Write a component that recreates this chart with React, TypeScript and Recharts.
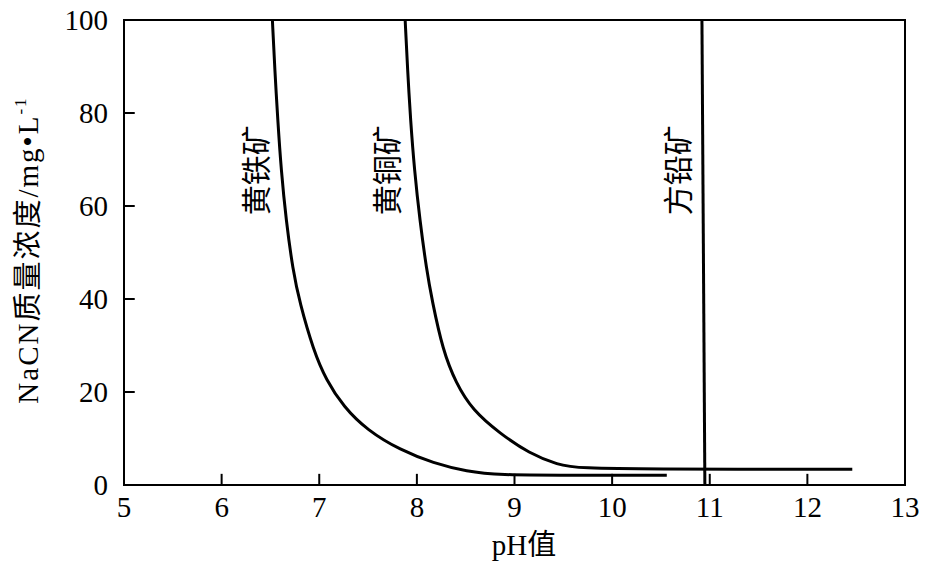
import React from 'react';
import {
    LineChart,
    Line,
    XAxis,
    YAxis,
    ReferenceArea,
    ReferenceDot,
    ReferenceLine
} from 'recharts';

// pH values (x) and NaCN concentration in mg/L (y)
const pyritePH = [6.52, 6.545, 6.575, 6.61, 6.66, 6.73, 6.8, 6.94, 7.07, 7.25, 7.49, 7.83, 8.17, 8.51, 8.85, 9.5, 10.0, 10.56];
const pyriteNaCN = [100, 89.2, 78.5, 67.7, 57, 46.2, 39.2, 29.0, 22.6, 16.8, 11.8, 7.5, 4.7, 2.9, 2.15, 2.1, 2.1, 2.1];

const chalcoPH = [7.88, 7.905, 7.935, 7.975, 8.03, 8.1, 8.155, 8.265, 8.4, 8.57, 8.85, 9.15, 9.45, 9.65, 10.5, 11.5, 12.46];
const chalcoNaCN = [100, 89.2, 78.5, 67.7, 57, 46.2, 39.8, 29.0, 21.9, 16.1, 11.1, 6.8, 4.3, 3.6, 3.4, 3.4, 3.4];

const galenaPH = [10.92, 10.95];
const galenaNaCN = [100, 0];

const xTicks = [5, 6, 7, 8, 9, 10, 11, 12, 13];
const yTicks = [0, 20, 40, 60, 80, 100];

// curve names and where they sit (pH, concentration)
const curveNames = ['黄铁矿', '黄铜矿', '方铅矿'];
const labelPH = [6.36, 7.7, 10.68];
const labelNaCN = [67.7, 67.7, 67.7];

const toRows = (xs: number[], ys: number[]) => xs.map((ph, i) => ({ ph, nacn: ys[i] }));

const pyriteData = toRows(pyritePH, pyriteNaCN);
const chalcoData = toRows(chalcoPH, chalcoNaCN);
const galenaData = toRows(galenaPH, galenaNaCN);

const SERIF = "'Liberation Serif', 'DejaVu Serif', 'Noto Sans CJK SC', serif";
const INK = '#000';

// inward tick length, in axis units (about 11px each way)
const TICK_X = 0.11;
const TICK_Y = 2.4;

const YTick = ({ x, y, payload }: any) => (
    <text x={Number(x) - 16} y={y} textAnchor="end" dominantBaseline="central" fill={INK} fontSize={29} fontFamily={SERIF}>
        {payload.value}
    </text>
);

const XTick = ({ x, y, payload }: any) => (
    <text x={x} y={Number(y) + 32} textAnchor="middle" fill={INK} fontSize={29} fontFamily={SERIF}>
        {payload.value}
    </text>
);

export default function App() {
    return (
        <div style={{ position: 'absolute', left: 0, top: 0, background: '#fff' }}>
            <LineChart width={942} height={561} margin={{ top: 20, right: 37, bottom: 36, left: 64 }}>
                <ReferenceArea x1={5} x2={13} y1={0} y2={100} fill="none" stroke={INK} strokeWidth={2} fillOpacity={0} />
                <XAxis
                    type="number"
                    dataKey="ph"
                    domain={[5, 13]}
                    ticks={xTicks}
                    allowDataOverflow
                    height={40}
                    tickSize={0}
                    tickMargin={0}
                    tickLine={false}
                    axisLine={{ stroke: INK, strokeWidth: 2 }}
                    tick={<XTick />}
                    label={{
                        content: () => (
                            <text x={524} y={555} textAnchor="middle" fill={INK} fontSize={29} fontFamily={SERIF}>
                                pH值
                            </text>
                        )
                    }}
                />
                <YAxis
                    type="number"
                    domain={[0, 100]}
                    ticks={yTicks}
                    allowDataOverflow
                    width={60}
                    tickSize={0}
                    tickMargin={0}
                    tickLine={false}
                    axisLine={{ stroke: INK, strokeWidth: 2 }}
                    tick={<YTick />}
                    label={{
                        content: () => (
                            <text
                                x={0}
                                y={0}
                                transform="translate(38 250) rotate(-90)"
                                textAnchor="middle"
                                fill={INK}
                                fontSize={29}
                                fontFamily={SERIF}
                                letterSpacing={2}
                            >
                                NaCN质量浓度/mg•L
                                <tspan fontSize={17} dy={-12}>-1</tspan>
                            </text>
                        )
                    }}
                />
                {yTicks.map((v) => (
                    <ReferenceLine
                        key={`yt-${v}`}
                        segment={[{ x: 5, y: v }, { x: 5 + TICK_X, y: v }]}
                        stroke={INK}
                        strokeWidth={2}
                        ifOverflow="visible"
                    />
                ))}
                {xTicks.map((v) => (
                    <ReferenceLine
                        key={`xt-${v}`}
                        segment={[{ x: v, y: 0 }, { x: v, y: TICK_Y }]}
                        stroke={INK}
                        strokeWidth={2}
                        ifOverflow="visible"
                    />
                ))}
                <Line data={pyriteData} dataKey="nacn" type="basis" stroke={INK} strokeWidth={3} dot={false} isAnimationActive={false} />
                <Line data={chalcoData} dataKey="nacn" type="basis" stroke={INK} strokeWidth={3} dot={false} isAnimationActive={false} />
                <Line data={galenaData} dataKey="nacn" type="linear" stroke={INK} strokeWidth={3} dot={false} isAnimationActive={false} />
                {curveNames.map((name, i) => (
                    <ReferenceDot
                        key={name}
                        x={labelPH[i]}
                        y={labelNaCN[i]}
                        r={1}
                        fill="none"
                        stroke="none"
                        label={{
                            content: ({ viewBox }: any) => {
                                const cx = viewBox.x + viewBox.width / 2;
                                const cy = viewBox.y + viewBox.height / 2;
                                return (
                                    <text
                                        x={0}
                                        y={0}
                                        transform={`translate(${cx} ${cy}) rotate(-90)`}
                                        textAnchor="middle"
                                        dominantBaseline="central"
                                        fill={INK}
                                        fontSize={30}
                                        fontFamily={SERIF}
                                    >
                                        {name}
                                    </text>
                                );
                            }
                        }}
                    />
                ))}
            </LineChart>
        </div>
    );
}
